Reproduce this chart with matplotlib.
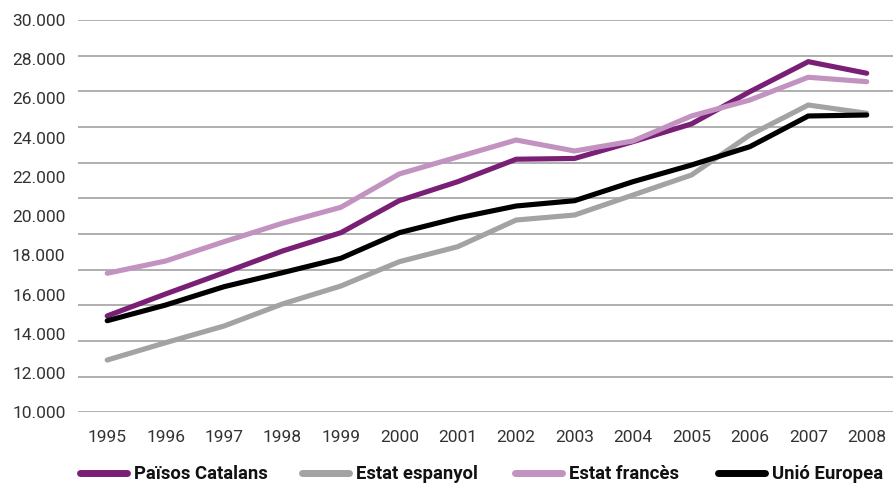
import numpy as np
import matplotlib.pyplot as plt
from matplotlib.lines import Line2D

years = list(range(1995, 2009))
paisos_catalans = [14910, 16030, 17115, 18220, 19155, 20790, 21755, 22900,
                   22940, 23795, 24700, 26345, 27875, 27285]
estat_espanyol = [12660, 13545, 14395, 15520, 16435, 17675, 18440, 19800,
                  20055, 21075, 22095, 24135, 25665, 25245]
estat_frances = [17085, 17710, 18695, 19635, 20450, 22150, 23015, 23880,
                 23320, 23830, 25105, 25920, 27080, 26855]
unio_europea = [14665, 15465, 16400, 17115, 17850, 19155, 19905, 20515,
                20785, 21755, 22605, 23540, 25105, 25155]
y_ticks = list(range(10000, 30001, 2000))
y_labels = ['{:,}'.format(v).replace(',', '.') for v in y_ticks]

series = [
    ('Països Catalans', paisos_catalans, '#7a1f76'),
    ('Estat espanyol', estat_espanyol, '#a3a3a3'),
    ('Estat francès', estat_frances, '#c292c1'),
    ('Unió Europea', unio_europea, '#000000'),
]
legend_x = [80, 302, 515, 718]  # pixel start of each legend key

dpi = 100.
plt.rcParams.update({'figure.dpi': dpi,
                     'figure.figsize': [893/dpi, 484/dpi],
                     'font.family': ['Roboto', 'DejaVu Sans']})

fig = plt.figure()
ax = fig.add_axes([78/893, 1 - 412.2/484, 1 - 78/893, (412.2 - 20)/484])

# the original's gridlines do not line up with its labels
for g in np.linspace(10000, 30000, 12):
    ax.axhline(g, color='#9a9a9a', lw=1.1, zorder=1)

for name, vals, col in series:
    ax.plot(years, vals, color=col, lw=3.7, solid_capstyle='round',
            solid_joinstyle='miter', zorder=3, label=name)

ax.set_xlim(1994.5, 2008.45)
ax.set_ylim(10000, 30000)
ax.set_xticks(years)
ax.set_xticklabels([str(y) for y in years])
ax.set_yticks(y_ticks)
ax.set_yticklabels(y_labels)
ax.tick_params(length=0, labelsize=12.5, labelcolor='#333333')
ax.tick_params(axis='x', pad=13)
ax.tick_params(axis='y', pad=9)
for s in ax.spines.values():
    s.set_visible(False)

for (name, _, col), lx in zip(series, legend_x):
    h = Line2D([], [], color=col, lw=5, solid_capstyle='round')
    leg = fig.legend([h], [name], loc='center left',
                     bbox_to_anchor=(lx/893, 1 - 474/484),
                     frameon=False, handlelength=2.55, handletextpad=0.38,
                     borderaxespad=0, borderpad=0,
                     prop={'weight': 'bold', 'size': 13.3})
    leg.get_texts()[0].set_color('#111111')

fig.savefig('out.png', dpi=dpi)
